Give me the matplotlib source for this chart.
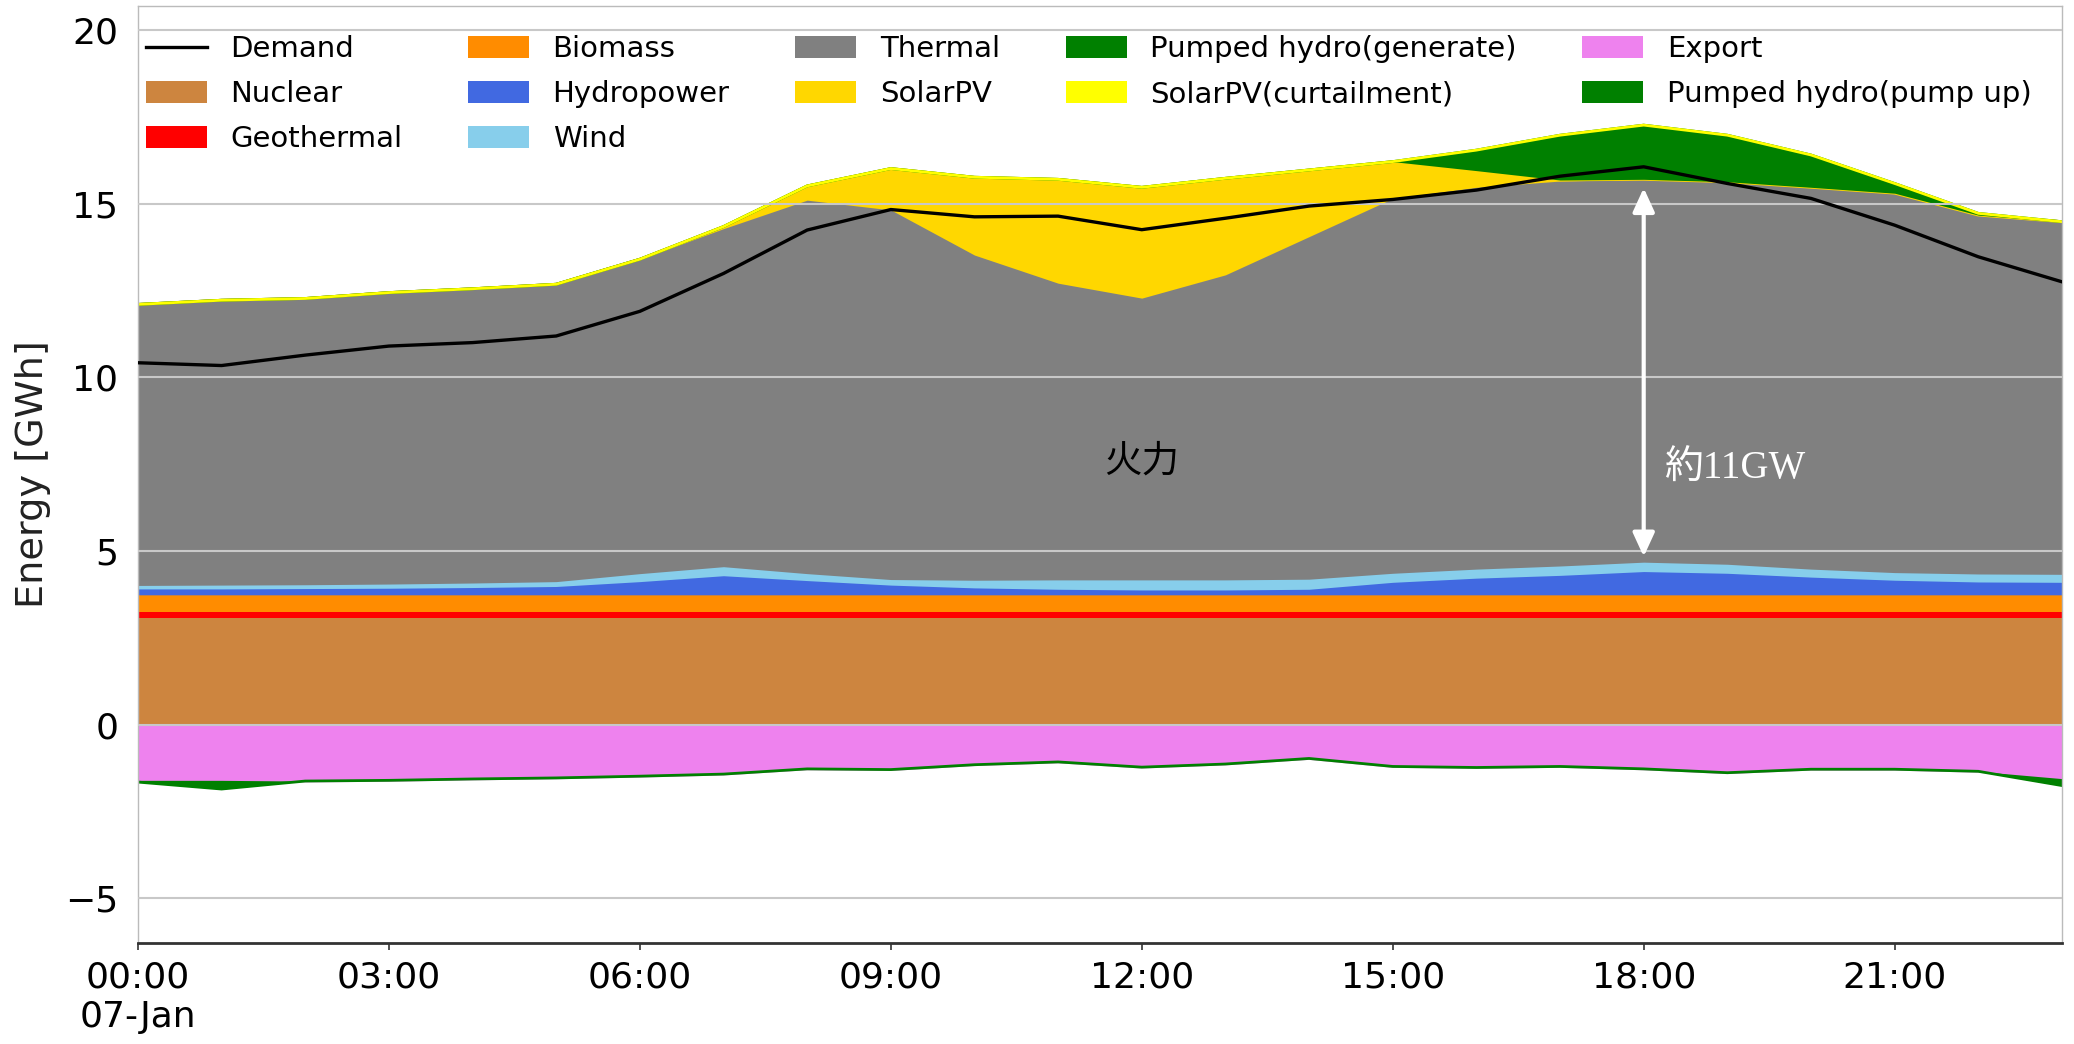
import numpy as np
import matplotlib.pyplot as plt
from matplotlib.patches import Patch
from matplotlib.lines import Line2D

hours = np.arange(24)
tick_hours = [0, 3, 6, 9, 12, 15, 18, 21]
tick_labels = ["00:00\n07-Jan", "03:00", "06:00", "09:00", "12:00", "15:00", "18:00", "21:00"]

demand = [10.42, 10.34, 10.64, 10.90, 11.00, 11.19, 11.90, 12.99, 14.24, 14.83, 14.62, 14.64,
          14.25, 14.58, 14.93, 15.12, 15.39, 15.79, 16.06, 15.58, 15.15, 14.38, 13.47, 12.75]

nuclear = [3.08] * 24
geothermal = [0.18] * 24
biomass = [0.48] * 24
hydropower = [0.17, 0.17, 0.18, 0.19, 0.21, 0.24, 0.38, 0.55, 0.41, 0.28, 0.20, 0.16,
              0.14, 0.14, 0.16, 0.36, 0.48, 0.56, 0.67, 0.62, 0.51, 0.42, 0.37, 0.36]
wind = [0.10, 0.11, 0.11, 0.12, 0.13, 0.14, 0.23, 0.26, 0.20, 0.16, 0.22, 0.27,
        0.29, 0.29, 0.29, 0.26, 0.26, 0.27, 0.27, 0.26, 0.23, 0.22, 0.23, 0.23]
thermal = [8.09, 8.20, 8.24, 8.39, 8.47, 8.56, 9.05, 9.73, 10.75, 10.64, 9.36, 8.54,
           8.11, 8.78, 9.86, 10.79, 10.99, 11.08, 11.02, 11.01, 10.99, 10.92, 10.33, 10.15]
solar = [0.0, 0.0, 0.0, 0.0, 0.0, 0.0, 0.0, 0.06, 0.41, 1.19, 2.24, 2.99,
         3.19, 2.78, 1.92, 1.06, 0.48, 0.03, 0.0, 0.0, 0.0, 0.0, 0.0, 0.0]
pumped_gen = [0.0] * 16 + [0.59, 1.29, 1.56, 1.34, 0.93, 0.28, 0.05, 0.0]
curtailment = [0.0] * 24
export = [-1.60, -1.60, -1.62, -1.60, -1.56, -1.53, -1.48, -1.42, -1.27, -1.29, -1.15, -1.07,
          -1.22, -1.13, -0.97, -1.20, -1.23, -1.20, -1.27, -1.38, -1.28, -1.28, -1.34, -1.55]
pump_up = [-0.05, -0.25] + [0.0] * 21 + [-0.20]

positive = [
    ("Nuclear", nuclear, "peru"),
    ("Geothermal", geothermal, "red"),
    ("Biomass", biomass, "darkorange"),
    ("Hydropower", hydropower, "royalblue"),
    ("Wind", wind, "skyblue"),
    ("Thermal", thermal, "gray"),
    ("SolarPV", solar, "gold"),
    ("Pumped hydro(generate)", pumped_gen, "green"),
    ("SolarPV(curtailment)", curtailment, "yellow"),
]
negative = [
    ("Export", export, "violet"),
    ("Pumped hydro(pump up)", pump_up, "green"),
]
legend_order = ["Nuclear", "Geothermal", "Biomass", "Hydropower", "Wind", "Thermal",
                "SolarPV", "Pumped hydro(generate)", "SolarPV(curtailment)",
                "Export", "Pumped hydro(pump up)"]


def draw_stack(ax, layers):
    base = np.zeros(len(hours))
    for name, vals, col in layers:
        top = base + np.array(vals)
        ax.plot(hours, top, color=col, lw=2.0, zorder=2)
        ax.fill_between(hours, base, top, color=col, lw=0, zorder=2)
        base = top


def main():
    fig = plt.figure(figsize=(20.74, 10.44), dpi=100)
    ax = fig.add_axes([0.0665, 0.0968, 0.9277, 0.8975])

    draw_stack(ax, positive)
    draw_stack(ax, negative)
    ax.plot(hours, demand, color="black", lw=2.4, zorder=4)

    ax.set_xlim(0, 23)
    ax.set_ylim(-6.28, 20.69)
    ax.set_xticks(tick_hours)
    ax.set_xticklabels(tick_labels)
    ax.set_yticks([-5, 0, 5, 10, 15, 20])
    ax.tick_params(axis="x", labelsize=26, length=5, width=1.2, color="#333333", pad=8)
    ax.tick_params(axis="y", labelsize=26, length=0, pad=14)
    for lab in ax.get_xticklabels():
        lab.set_horizontalalignment("center")
    ax.set_ylabel("Energy [GWh]", fontsize=27.5, labelpad=10, color="#222222")

    ax.set_axisbelow(False)
    ax.grid(axis="y", color="#c8c8c8", lw=1.5, zorder=3)
    ax.grid(axis="x", visible=False)
    for side in ["top", "right", "left"]:
        ax.spines[side].set_color("#bbbbbb")
        ax.spines[side].set_linewidth(1.0)
    ax.spines["bottom"].set_color("#333333")
    ax.spines["bottom"].set_linewidth(2.0)

    ax.annotate("", xy=(18, 15.45), xytext=(18, 4.84),
                arrowprops=dict(arrowstyle="<|-|>,head_length=0.72,head_width=0.33",
                                color="white", lw=3, mutation_scale=20,
                                shrinkA=0, shrinkB=0), zorder=5)
    ax.text(12.0, 7.6, "火力", fontsize=27, family=["Noto Sans CJK JP", "DejaVu Sans"],
            ha="center", va="center", color="black", zorder=5)
    ax.text(18.24, 7.34, "約11GW", fontsize=28,
            family=["Liberation Serif", "Noto Sans CJK JP"],
            ha="left", va="center", color="white", zorder=5)

    colors = {name: col for name, vals, col in positive + negative}
    handles = [Line2D([], [], color="black", lw=2.4)]
    labels = ["Demand"]
    for name in legend_order:
        handles.append(Patch(facecolor=colors[name], edgecolor="none"))
        labels.append(name)
    fig.legend(handles, labels, ncol=5, loc="upper left",
               bbox_to_anchor=(0.0632, 0.980), frameon=False, fontsize=21,
               borderpad=0, handlelength=2.1, handleheight=0.8, columnspacing=2.25,
               labelspacing=0.58, handletextpad=0.8)

    fig.savefig("out.png", dpi=100)


if __name__ == "__main__":
    main()
